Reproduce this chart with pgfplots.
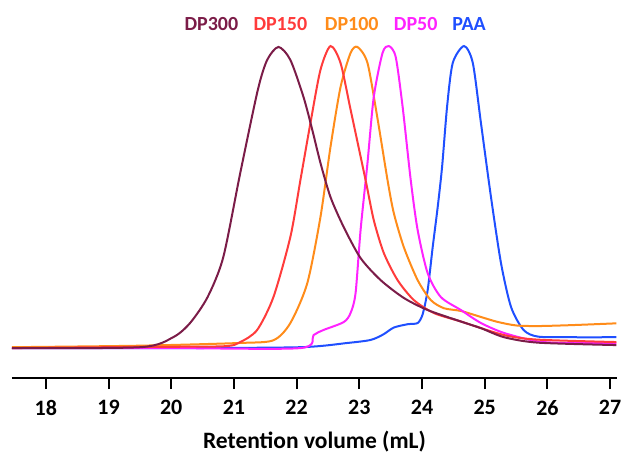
\documentclass[border=0pt]{standalone}
\usepackage{pgfplots}
\pgfplotsset{compat=1.18}
\usepackage{fontspec}
\setmainfont{Carlito}

\definecolor{cDPthree}{HTML}{7B1C48}
\definecolor{cDPone}{HTML}{FF3B3B}
\definecolor{cDPhund}{HTML}{FF8C1A}
\definecolor{cDPfifty}{HTML}{FF22FF}
\definecolor{cPAA}{HTML}{1F4FFF}

\begin{document}
\begin{tikzpicture}
\begin{axis}[
    scale only axis,
    width=605pt, height=338pt,
    xmin=17.46, xmax=27.11,
    ymin=-0.099, ymax=1.02,
    axis x line*=bottom,
    hide y axis,
    axis line style={line width=2.2pt},
    xtick={18,19,...,27},
    tick align=outside,
    major tick length=11pt,
    every tick/.style={black, line width=2pt},
    tick label style={font=\fontsize{22}{26}\selectfont\bfseries},
    xticklabel style={yshift=-8pt},
    /pgf/number format/assume math mode=true,
    xlabel={\fontsize{23.5}{28}\selectfont\bfseries Retention volume (mL)},
    xlabel style={yshift=-8pt},
    clip=false,
    every axis plot/.append style={line width=2pt, smooth, tension=0.45, no markers},
]
\coordinate (ll) at (rel axis cs:0,0);
\coordinate (ur) at (rel axis cs:1,1);

% PAA
\addplot[cPAA] coordinates {
(17.46,0) (20.0,0.0) (22.06,0.003) (22.81,0.017) (23.18,0.027) (23.38,0.045)
(23.55,0.068) (23.77,0.079) (23.93,0.083) (24.01,0.112) (24.09,0.192)
(24.17,0.334) (24.25,0.467) (24.32,0.60) (24.40,0.80) (24.49,0.944) (24.67,1.0) (24.81,0.944)
(24.94,0.745) (25.10,0.50) (25.26,0.281) (25.42,0.136) (25.62,0.060)
(25.85,0.038) (26.38,0.036) (27.10,0.036)
};
% DP100
\addplot[cDPhund] coordinates {
(17.46,0.003) (19.5,0.008) (21.10,0.017) (21.63,0.026) (21.90,0.083)
(22.17,0.215) (22.38,0.434) (22.54,0.666) (22.70,0.864) (22.86,0.977)
(22.97,0.997) (23.13,0.944) (23.29,0.760) (23.45,0.556) (23.55,0.447)
(23.71,0.334) (23.93,0.225) (24.14,0.159) (24.35,0.132) (24.62,0.123)
(24.94,0.103) (25.20,0.087) (25.50,0.075) (25.85,0.073) (26.38,0.076) (27.10,0.082)
};
% DP50
\addplot[cDPfifty] coordinates {
(17.46,0) (20.0,0.0) (22.06,0.0) (22.27,0.043) (22.43,0.060) (22.75,0.086)
(22.86,0.116) (22.94,0.182) (23.02,0.391) (23.13,0.613) (23.23,0.831)
(23.37,0.977) (23.47,1.0) (23.58,0.964) (23.69,0.800) (23.82,0.556)
(23.93,0.391) (24.09,0.248) (24.30,0.169) (24.62,0.126) (24.94,0.083)
(25.31,0.050) (25.85,0.022) (26.38,0.017) (27.10,0.017)
};
% DP150
\addplot[cDPone] coordinates {
(17.46,0) (19.5,0.004) (20.83,0.006) (21.10,0.020) (21.37,0.060) (21.63,0.169)
(21.90,0.368) (22.06,0.556) (22.22,0.745) (22.38,0.921) (22.54,1.0)
(22.70,0.944) (22.86,0.790) (23.10,0.556) (23.23,0.424) (23.39,0.315)
(23.61,0.225) (23.87,0.159) (24.19,0.116) (24.62,0.088) (25.31,0.043)
(25.85,0.028) (27.10,0.020)
};
% DP300
\addplot[cDPthree] coordinates {
(17.46,0) (19.51,0.003) (20.03,0.036) (20.30,0.083) (20.58,0.169)
(20.83,0.301) (21.10,0.579) (21.38,0.854) (21.53,0.954) (21.71,0.997)
(21.90,0.954) (22.11,0.831) (22.25,0.722) (22.38,0.613) (22.54,0.50)
(22.75,0.401) (23.02,0.298) (23.34,0.225) (23.71,0.166) (24.09,0.126)
(24.62,0.088) (24.94,0.066) (25.31,0.036) (25.85,0.018) (27.10,0.010)
};

\begin{scope}[font=\fontsize{20}{24}\selectfont\bfseries]
\node[cDPthree] at (axis cs:20.64,1.073) {DP300};
\node[cDPone] at (axis cs:21.74,1.073) {DP150};
\node[cDPhund] at (axis cs:22.88,1.073) {DP100};
\node[cDPfifty] at (axis cs:23.90,1.073) {DP50};
\node[cPAA] at (axis cs:24.75,1.073) {PAA};
\end{scope}
\end{axis}
\pgfresetboundingbox
\path ([shift={(-12pt,-77pt)}]ll) rectangle ([shift={(5pt,40pt)}]ur);
\end{tikzpicture}
\end{document}
